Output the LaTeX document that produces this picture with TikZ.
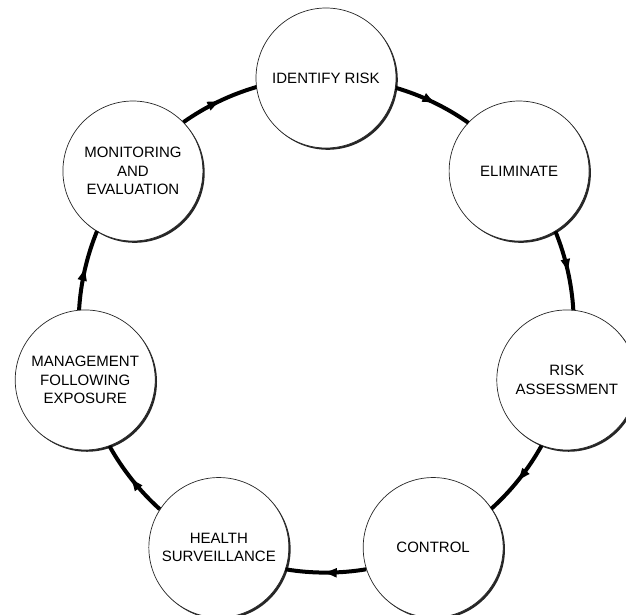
\documentclass[tikz,border=0pt]{standalone}
\usepackage{fontspec}
\setmainfont{Liberation Sans}
\usetikzlibrary{shadows,decorations.markings,arrows.meta,calc}
\begin{document}
\begin{tikzpicture}[x=1pt,y=1pt,
  stage/.style={circle, draw=black!85, line width=0.7pt, fill=white,
    minimum size=140pt, inner sep=0pt, align=center,
    font=\fontsize{15pt}{18.5pt}\selectfont, text=black,
    drop shadow={shadow xshift=1.8pt, shadow yshift=-1.8pt, fill=black!85, opacity=1}},
  flow/.style={line width=4pt, black, postaction={decorate},
    decoration={markings, mark=at position 0.55 with {\arrow{Latex[length=15pt,width=10pt]}}}}
]
\useasboundingbox (0,0) rectangle (626,-614);
\clip (0,0) rectangle (626,-614);
\coordinate (O) at (326,-325);
\node[stage] (a) at ($(O)+(90:247)$) {IDENTIFY RISK};
\node[stage] (b) at ($(O)+(38.571:247)$) {ELIMINATE};
\node[stage] (c) at ($(O)+(-12.857:247)$) {RISK\\ASSESSMENT};
\node[stage] (d) at ($(O)+(-64.286:247)$) {CONTROL};
\node[stage] (e) at ($(O)+(-115.714:247)$) {HEALTH\\SURVEILLANCE};
\node[stage] (f) at ($(O)+(-167.143:247)$) {MANAGEMENT\\FOLLOWING\\EXPOSURE};
\node[stage] (g) at ($(O)+(141.429:247)$) {MONITORING\\AND\\EVALUATION};
\foreach \p [count=\k from 0] in {a,b,c,d,e,f,g} {
  \pgfmathsetmacro{\phi}{90-51.4286*\k}
  \pgfmathsetmacro{\anc}{\phi-98.145}
  \pgfmathsetmacro{\sa}{\phi-16.29}
  \pgfmathsetmacro{\ea}{\phi-51.4286+16.29}
  \draw[flow] (\p.\anc) arc[start angle=\sa, end angle=\ea, radius=247];
}
\end{tikzpicture}
\end{document}
